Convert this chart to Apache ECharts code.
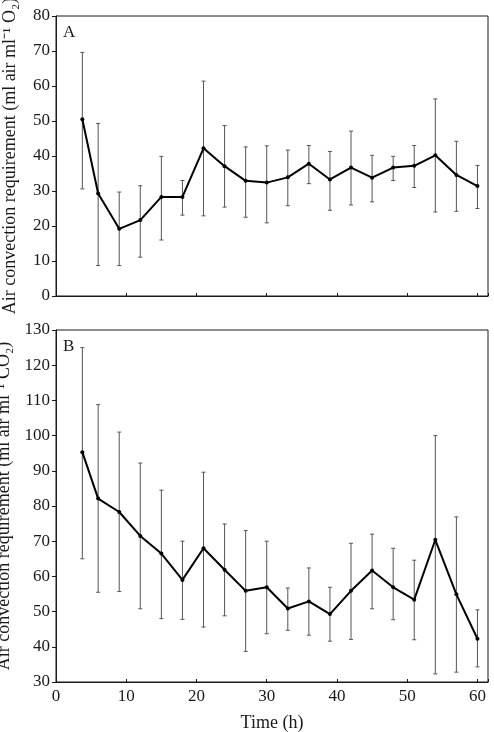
<!DOCTYPE html>
<html>
<head>
<meta charset="utf-8">
<script src="https://cdn.jsdelivr.net/npm/echarts@6/dist/echarts.min.js"></script>
<style>
  html, body { margin: 0; padding: 0; background: #fff; }
  #main { width: 494px; height: 732px; }
</style>
</head>
<body>
<div id="main"></div>
<script>
// sampling times (h)
const times = [3.75, 6, 9, 12, 15, 18, 21, 24, 27, 30, 33, 36, 39, 42, 45, 48, 51, 54, 57, 60];

// panel A - O2
const o2Mean  = [50.5, 29.3, 19.2, 21.7, 28.3, 28.3, 42.2, 37.1, 32.9, 32.4, 33.9, 37.8, 33.3, 36.7, 33.8, 36.7, 37.2, 40.2, 34.6, 31.4];
const o2Upper = [69.6, 49.3, 29.7, 31.5, 39.9, 33.0, 61.4, 48.7, 42.6, 42.9, 41.7, 43.0, 41.3, 47.1, 40.2, 39.9, 43.0, 56.3, 44.2, 37.3];
const o2Lower = [30.6,  8.7,  8.7, 11.1, 16.0, 23.1, 22.9, 25.4, 22.5, 20.9, 25.8, 32.1, 24.5, 26.0, 26.9, 33.0, 31.0, 24.0, 24.2, 25.0];

// panel B - CO2
const co2Mean  = [95.3, 82.1, 78.3, 71.5, 66.5, 59.0, 68.0, 61.9, 55.9, 56.9, 50.9, 52.9, 49.3, 55.9, 61.7, 56.9, 53.4, 70.4, 54.9, 42.3];
const co2Upper = [125.0, 108.8, 101.0, 92.2, 84.5, 70.0, 89.6, 74.9, 73.0, 70.0, 56.7, 62.4, 56.9, 69.4, 72.0, 68.0, 64.6, 100.0, 76.9, 50.5];
const co2Lower = [65.0, 55.5, 55.7, 50.8, 48.0, 47.8, 45.6, 48.8, 38.7, 43.7, 44.7, 43.3, 41.6, 42.1, 50.8, 47.7, 42.0, 32.3, 32.8, 34.3];

const serif = 'Liberation Serif';
const ink = '#1a1a1a';

function pairs(ys) {
  return times.map((t, i) => [t, ys[i]]);
}

function errorBars(idx, lo, hi) {
  return {
    type: 'custom',
    xAxisIndex: idx,
    yAxisIndex: idx,
    data: times.map((t, i) => [t, lo[i], hi[i]]),
    encode: { x: 0, y: [1, 2] },
    z: 1,
    renderItem: function (params, api) {
      const x = api.value(0);
      const a = api.coord([x, api.value(1)]);
      const b = api.coord([x, api.value(2)]);
      const st = { stroke: '#555', lineWidth: 1 };
      return {
        type: 'group',
        children: [
          { type: 'line', shape: { x1: a[0], y1: a[1], x2: b[0], y2: b[1] }, style: st },
          { type: 'line', shape: { x1: a[0] - 2, y1: a[1], x2: a[0] + 2, y2: a[1] }, style: st },
          { type: 'line', shape: { x1: b[0] - 2, y1: b[1], x2: b[0] + 2, y2: b[1] }, style: st }
        ]
      };
    }
  };
}

function meanLine(idx, ys) {
  return {
    type: 'line',
    xAxisIndex: idx,
    yAxisIndex: idx,
    data: pairs(ys),
    symbol: 'circle',
    symbolSize: 4,
    lineStyle: { color: '#000', width: 2 },
    itemStyle: { color: '#000' },
    z: 3,
    animation: false
  };
}

function xAxis(idx, withLabels) {
  return {
    type: 'value',
    gridIndex: idx,
    min: 0,
    max: 61.5,
    interval: 10,
    splitLine: { show: false },
    axisLine: { lineStyle: { color: ink, width: 1 } },
    axisTick: { inside: true, length: 3, lineStyle: { color: ink } },
    axisLabel: {
      show: withLabels,
      fontFamily: serif, fontSize: 17, color: ink, margin: 6,
      formatter: v => (v % 10 === 0 ? String(v) : '')
    },
    name: withLabels ? 'Time (h)' : '',
    nameLocation: 'middle',
    nameGap: 32,
    nameTextStyle: { fontFamily: serif, fontSize: 18, color: ink }
  };
}

function yAxis(idx, min, max, name) {
  return {
    type: 'value',
    gridIndex: idx,
    min: min,
    max: max,
    interval: 10,
    splitLine: { show: false },
    axisLine: { lineStyle: { color: ink, width: 1 } },
    axisTick: { inside: false, length: 4, lineStyle: { color: ink } },
    axisLabel: { fontFamily: serif, fontSize: 17, color: ink, margin: 6 },
    name: name,
    nameLocation: 'middle',
    nameRotate: 90,
    nameGap: 37,
    nameTextStyle: { fontFamily: serif, fontSize: 18, color: ink }
  };
}

const chart = echarts.init(document.getElementById('main'));
chart.setOption({
  backgroundColor: '#fff',
  animation: false,
  grid: [
    { left: 56, right: 6, top: 16, height: 280, show: true, borderColor: ink, borderWidth: 1, outerBoundsMode: 'none' },
    { left: 56, right: 6, top: 330, height: 352, show: true, borderColor: ink, borderWidth: 1, outerBoundsMode: 'none' }
  ],
  xAxis: [xAxis(0, false), xAxis(1, true)],
  yAxis: [
    yAxis(0, 0, 80, 'Air convection requirement (ml air ml\u207B\u00B9 O\u2082)'),
    yAxis(1, 30, 130, 'Air convection requirement (ml air ml\u207B\u00B9 CO\u2082)')
  ],
  graphic: [
    { type: 'text', left: 63, top: 24, style: { text: 'A', fontFamily: serif, fontSize: 17, fill: ink } },
    { type: 'text', left: 63, top: 338, style: { text: 'B', fontFamily: serif, fontSize: 17, fill: ink } }
  ],
  series: [
    errorBars(0, o2Lower, o2Upper),
    meanLine(0, o2Mean),
    errorBars(1, co2Lower, co2Upper),
    meanLine(1, co2Mean)
  ]
});
</script>
</body>
</html>
